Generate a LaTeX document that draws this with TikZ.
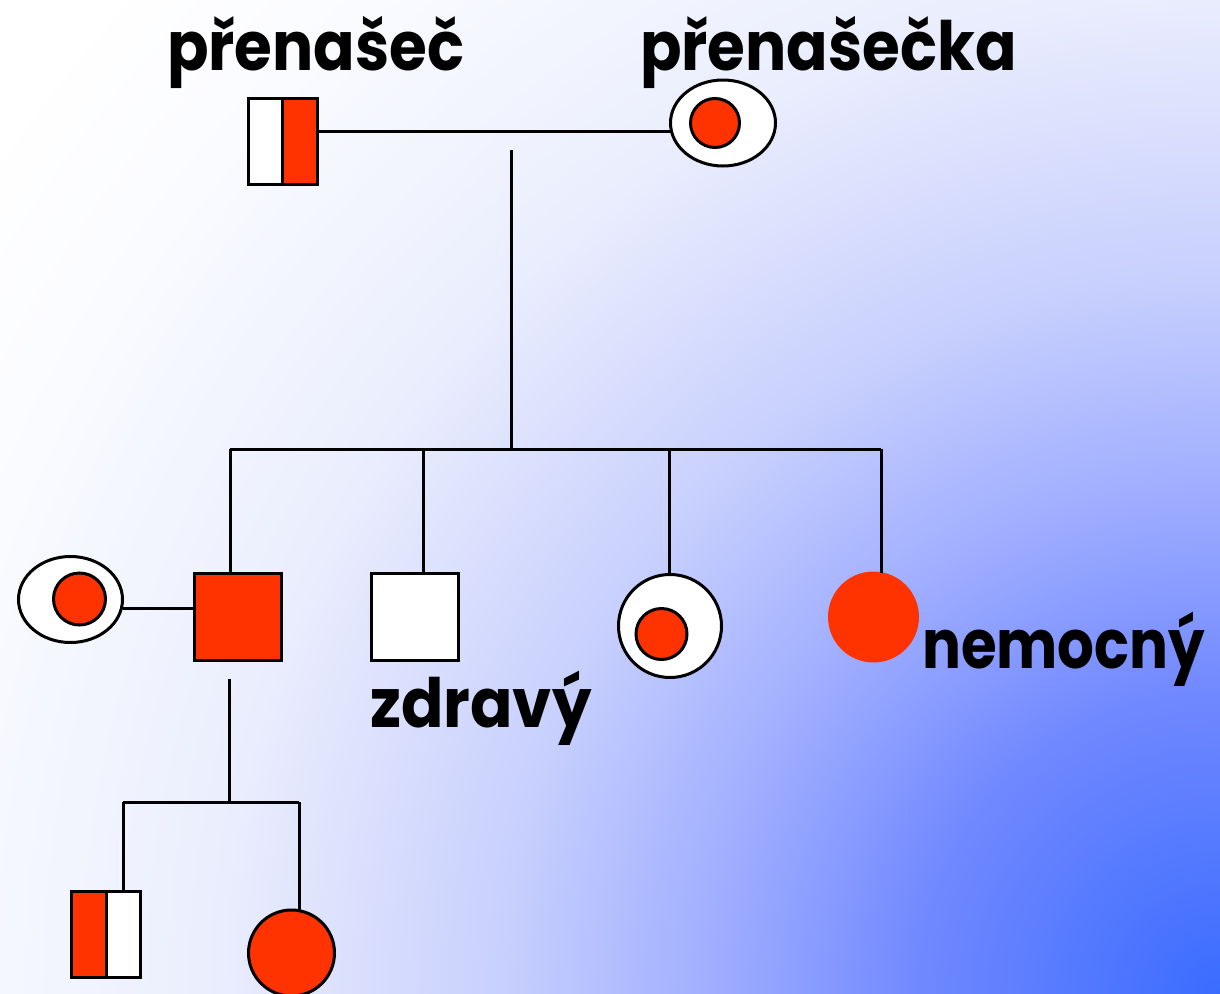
\documentclass[tikz,border=0pt]{standalone}
\usepackage{fontspec}
\newfontfamily\lblfont{Poppins}
\usetikzlibrary{shapes.geometric,calc}
\definecolor{redc}{HTML}{FF3300}
\definecolor{g0}{HTML}{3A6CFF}
\definecolor{g1}{HTML}{7088FF}
\definecolor{g2}{HTML}{A0AEFF}
\definecolor{g3}{HTML}{C8D0FD}
\definecolor{g4}{HTML}{EAEDFD}
\definecolor{g5}{HTML}{FAFBFF}
\pgfdeclareradialshading{bgshade}{\pgfpoint{0bp}{0bp}}{color(0bp)=(g0); color(300bp)=(g1); color(510bp)=(g2); color(720bp)=(g3); color(1000bp)=(g4); color(1300bp)=(g5); color(1500bp)=(white); color(1650bp)=(white)}
\newcommand{\lbltext}[2][0.9]{\scalebox{#1}[1]{#2}}
\tikzset{
  ln/.style={line width=3bp, draw=black},
  sqbox/.style={rectangle, draw=black, line width=3bp, minimum width=87bp, minimum height=87bp, inner sep=0pt, outer sep=0pt},
  halfbox/.style={rectangle, draw=black, line width=3bp, minimum width=69bp, minimum height=86bp, inner sep=0pt, outer sep=0pt},
  femouter/.style={ellipse, draw=black, fill=white, line width=3bp, inner sep=0pt, outer sep=0pt},
  dot/.style={circle, draw=black, fill=redc, line width=3bp, minimum size=49bp, inner sep=0pt, outer sep=0pt},
  lbl/.style={anchor=base west, inner sep=0pt, font=\lblfont\bfseries\fontsize{68bp}{80bp}\selectfont, text=black}
}
\begin{document}
\begin{tikzpicture}[x=1bp,y=-1bp]
\useasboundingbox (0,0) rectangle (1220,994);
\begin{scope}
  \clip (0,0) rectangle (1220,994);
  \fill[white] (0,0) rectangle (1220,994);
  \node[inner sep=0pt, outer sep=0pt] (bg) at (1220,994) {\pgfuseshading{bgshade}};
\end{scope}

% generation I
\node[halfbox, fill=white, path picture={\fill[redc] (path picture bounding box.north) rectangle (path picture bounding box.south east);}] (F) at (282.5,141) {};
\draw[ln] (F.north) -- (F.south);
\node[femouter, minimum width=105bp, minimum height=86bp] (M) at (723,123) {};
\node[dot] (Mi) at (715,123) {};
\coordinate (fm) at ([yshift=10bp]F.east);
\draw[ln] (fm) -- (fm -| M.west);
\coordinate (c1) at (511,150);
\coordinate (sib) at (511,449);
\draw[ln] (c1) -- (sib);

% generation II
\node[sqbox, fill=redc] (S1) at (238,617) {};
\node[sqbox, fill=white] (S2) at (414.5,617) {};
\node[femouter, minimum width=103bp, minimum height=103bp] (D1) at (670,626) {};
\node[dot, minimum size=51bp] (D1i) at (661.5,634) {};
\node[circle, fill=redc, minimum size=91bp, inner sep=0pt, outer sep=0pt] (D2) at (873.5,617) {};
\node[femouter, minimum width=104bp, minimum height=86bp] (W) at (70.5,599.5) {};
\node[dot, minimum size=52bp] (Wi) at (79.5,599) {};

\coordinate (sA) at (230,449);
\coordinate (sB) at (423,449);
\coordinate (sC) at (669,449);
\coordinate (sD) at (881,449);
\draw[ln] (sA) -- (sD);
\draw[ln] (sA) -- (sA |- S1.north);
\draw[ln] (sB) -- (sB |- S2.north);
\draw[ln] (sC) -- (sC |- D1.north);
\draw[ln] (sD) -- ($(sD |- D2.north)+(0,1)$);
\coordinate (wm) at ([yshift=-8.5bp]W.east);
\draw[ln] (wm) -- (wm -| S1.west);

% generation III
\node[halfbox, fill=white, path picture={\fill[redc] (path picture bounding box.north west) rectangle (path picture bounding box.south);}] (G1) at (106,934.5) {};
\draw[ln] (G1.north) -- (G1.south);
\node[circle, draw=black, fill=redc, line width=3bp, minimum size=86bp, inner sep=0pt, outer sep=0pt] (G2) at (291.5,953) {};
\coordinate (s1d) at (229,679);
\coordinate (gm) at (229,802);
\coordinate (gA) at (123,802);
\coordinate (gB) at (299,802);
\draw[ln] (s1d) -- (gm);
\draw[ln] (gA) -- (gB);
\draw[ln] (gA) -- (gA |- G1.north);
\draw[ln] (gB) -- ($(gB |- G2.north)+(0,2)$);

% labels
\node[lbl] (t1) at (167,70) {\lbltext{přenašeč}};
\node[lbl] (t2) at (640,70) {\lbltext{přenašečka}};
\node[lbl] (t3) at (370,727) {\lbltext[0.92]{zdravý}};
\node[lbl] (t4) at (922,668) {\lbltext[0.85]{nemocný}};
\end{tikzpicture}
\end{document}
